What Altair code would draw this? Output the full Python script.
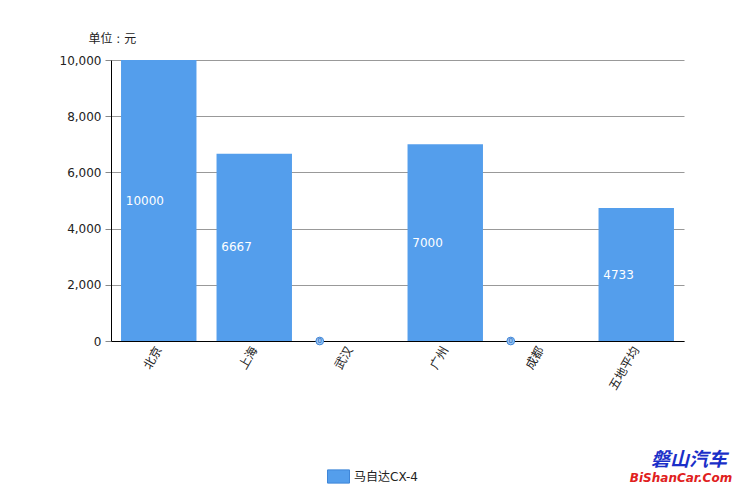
import altair as alt
import pandas as pd

cities = ["北京", "上海", "武汉", "广州", "成都", "五地平均"]
prices = [10000, 6667, 0, 7000, 0, 4733]
series = "马自达CX-4"

df = pd.DataFrame({"city": cities, "price": prices, "series": [series] * len(cities)})
df["mid"] = df["price"] / 2
df["label"] = df["price"].astype(int).astype(str)

FONT = "DejaVu Sans, Noto Sans CJK SC"
BLUE = "#549EEC"

x = alt.X("city:N", sort=cities, scale=alt.Scale(paddingInner=0.21, paddingOuter=0.105),
          axis=alt.Axis(title=None, labelAngle=-60, labelAlign="right", labelBaseline="middle",
                        labelFontSize=12, labelColor="#222", labelFont=FONT, labelPadding=6,
                        ticks=False, domainColor="#000", domainWidth=1, grid=False))

bars = alt.Chart(df).mark_bar(color=BLUE).encode(
    x=x,
    y=alt.Y("price:Q", scale=alt.Scale(domain=[0, 10000], nice=False),
            axis=alt.Axis(values=[0, 2000, 4000, 6000, 8000, 10000], format=",.0f",
                          title="单位 : 元", titleAngle=0, titleAlign="left", titleX=-23, titleY=-15,
                          titleFontSize=12, titleFontWeight="normal", titleFont=FONT, titleColor="#222",
                          labelFontSize=12, labelColor="#222", labelFont=FONT, labelPadding=4,
                          tickColor="#888", tickSize=6, gridColor="#999", gridWidth=1,
                          domainColor="#000", domainWidth=1)),
    color=alt.Color("series:N", scale=alt.Scale(range=[BLUE]),
                    legend=alt.Legend(title=None, orient="none", legendX=216, legendY=405,
                                      symbolType="M -1 -0.6 L 1 -0.6 L 1 0.6 L -1 0.6 Z",
                                      symbolSize=484, symbolStrokeColor="#3f86d8", symbolStrokeWidth=1,
                                      labelFontSize=12, labelFont=FONT, labelColor="#222")),
)

nonzero = df[df["price"] > 0]
zero = df[df["price"] == 0]

labels = alt.Chart(nonzero).mark_text(align="left", baseline="middle", dx=-33, color="white",
                                      fontSize=12, font=FONT).encode(
    x=alt.X("city:N", sort=cities), y=alt.Y("mid:Q"), text="label:N")

zero_pts = alt.Chart(zero).mark_circle(size=60, color="#9cc7f5", stroke="#3f86d8", strokeWidth=1,
                                       opacity=1, xOffset=-30).encode(
    x=alt.X("city:N", sort=cities), y=alt.Y("price:Q"))
zero_txt = alt.Chart(zero).mark_text(fontSize=7, color="#2f6fc0", dx=-30, baseline="middle",
                                     font=FONT).encode(
    x=alt.X("city:N", sort=cities), y=alt.Y("price:Q"), text="label:N")

wm1 = alt.Chart(pd.DataFrame({"t": ["磐山汽车"]})).mark_text(
    fontSize=19, fontWeight="bold", fontStyle="italic", color="#1a2fc8", align="center",
    font="Noto Sans CJK SC").encode(x=alt.value(578), y=alt.value(400), text="t:N")
wm2 = alt.Chart(pd.DataFrame({"t": ["BiShanCar.Com"]})).mark_text(
    fontSize=12, fontWeight="bold", fontStyle="italic", color="#e02020", align="center",
    font="DejaVu Sans").encode(x=alt.value(570), y=alt.value(418), text="t:N")

chart = alt.layer(bars, labels, zero_pts, zero_txt, wm1, wm2).properties(
    width=573, height=281, autosize=alt.AutoSizeParams(type="none"),
    padding={"left": 103, "top": 52, "right": 52, "bottom": 147},
    background="white",
).configure_view(strokeWidth=0, stroke="transparent")

chart.save("out.html", embed_options={"renderer": "svg", "actions": False})
